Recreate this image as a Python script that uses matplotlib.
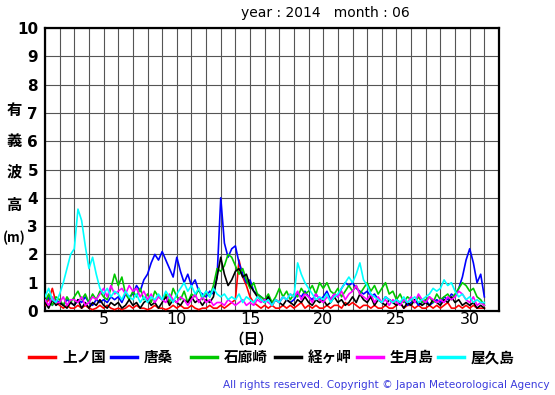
import numpy as np
import matplotlib
matplotlib.use("Agg")
import matplotlib.pyplot as plt

plt.rcParams['font.family'] = ['Noto Sans CJK JP', 'DejaVu Sans']

title_text = "year : 2014   month : 06"
names = ["上ノ国", "唐桑", "石廊崎", "経ヶ岬", "生月島", "屋久島"]
colors = ["#ff0000", "#0000ff", "#00c800", "#000000", "#ff00ff", "#00ffff"]
ylabel_chars = ["有", "義", "波", "高", "(m)"]
xtick_vals = [5, 10, 15, 20, 25, 30]
ytick_vals = list(range(0, 11))
samples_per_day = 4

kaminokuni = [.2,.4,.8,.3, .2,.1,.2,.1, .1,.2,.1,.2, .1,.05,.1,.2, .1,.2,.1,.05,
              .1,.05,.1,.2, .1,.2,.1,.1, .05,.1,.2,.1, .1,.05,.1,.2, .1,.2,.1,.1,
              .2,.1,.05,.1, .1,.2,.1,.1, .2,.1,.2,.3, .4,1.8,1.2,.9, .5,.3,.2,.1,
              .2,.1,.2,.1, .1,.2,.1,.2, .1,.2,.3,.1, .2,.1,.2,.1, .1,.2,.1,.2,
              .2,.1,.3,.2, .3,.2,.1,.2, .2,.1,.2,.1, .1,.2,.1,.1, .2,.3,.1,.2,
              .2,.1,.2,.1, .1,.2,.1,.2, .1,.2,.3,.1, .1,.2,.1,.2, .1,.2,.1,.1, .1]
karakuwa = [.3,.5,.2,.4, .3,.2,.4,.3, .2,.4,.3,.5, .3,.2,.4,.3, .4,.3,.5,.4,
            .5,.3,.6,.5, .6,.9,.7,1.1, 1.3,1.7,2.0,1.8, 2.1,1.8,1.5,1.2, 1.9,1.4,1.0,1.3,
            .9,1.1,.7,.6, .5,.7,.6,1.2, 4.0,2.4,1.9,2.2, 2.3,1.7,1.3,1.0, 1.1,.7,.6,.5,
            .4,.5,.3,.4, .3,.5,.4,.3, .4,.6,.5,.7, .5,.4,.6,.4, .5,.7,.4,.6,
            .5,.8,1.0,.9, 1.0,.8,.7,.6, .7,.5,.6,.4, .3,.5,.4,.3, .4,.3,.4,.2,
            .3,.4,.2,.3, .4,.2,.3,.4, .3,.5,.4,.6, .5,.8,1.2,1.8, 2.2,1.7,1.0,1.3, .5]
irozaki = [.3,.6,.2,.5, .4,.2,.5,.3, .5,.7,.4,.6, .3,.6,.4,.7, .5,.4,.8,1.3,
           .9,1.2,.6,.4, .7,.5,.8,.4, .6,.3,.7,.5, .4,.6,.3,.8, .5,.4,.7,.3,
           .6,.5,.8,.4, .7,.5,.9,1.5, 1.4,1.6,2.0,1.9, 1.6,1.3,1.5,1.1, .8,1.0,.6,.5,
           .4,.6,.3,.5, .8,.5,.7,.4, .6,.5,.8,.6, .7,.9,.6,1.0, .8,1.0,.7,.6,
           .8,.5,.7,.9, .7,.9,.6,.8, 1.0,.7,.9,.6, .8,1.0,.6,.7, .4,.6,.3,.5,
           .4,.3,.5,.3, .4,.5,.3,.6, .4,.5,.6,.4, .6,.8,1.0,.9, .7,.8,.5,.4, .2]
kyogamisaki = [.3,.1,.4,.2, .3,.2,.1,.3, .2,.4,.1,.3, .1,.3,.2,.4, .2,.1,.3,.2,
               .3,.1,.2,.4, .2,.3,.1,.3, .4,.2,.3,.1, .3,.5,.2,.4, .3,.2,.4,.3,
               .5,.3,.4,.2, .4,.3,.5,1.2, 1.9,1.3,.9,1.1, 1.4,1.5,1.2,1.3, .9,.7,.5,.4,
               .3,.5,.2,.4, .3,.2,.4,.3, .2,.4,.3,.5, .3,.2,.4,.3, .4,.2,.3,.5,
               .3,.4,.2,.3, .5,.3,.6,.4, .3,.5,.2,.4, .3,.2,.4,.3, .2,.3,.1,.3,
               .2,.4,.3,.2, .3,.2,.4,.3, .2,.4,.3,.5, .3,.4,.2,.3, .2,.3,.1,.2, .1]
ikitsukishima = [.4,.2,.5,.3, .3,.5,.2,.4, .4,.3,.5,.2, .3,.5,.4,.6, .8,.5,.9,.6,
                 .7,.8,.6,.9, .7,.8,.5,.7, .4,.6,.3,.5, .4,.3,.6,.4, .3,.5,.4,.2,
                 .4,.6,.3,.5, .3,.4,.2,.3, .3,.2,.4,.3, .2,.3,.4,.2, .3,.2,.4,.3,
                 .4,.3,.2,.4, .3,.5,.4,.6, .5,.7,.4,.6, .5,.3,.6,.4, .3,.5,.4,.6,
                 .5,.7,.4,.6, .7,.9,.6,.5, .4,.6,.3,.5, .3,.4,.2,.4, .3,.2,.4,.3,
                 .5,.3,.6,.4, .3,.5,.4,.3, .4,.3,.5,.4, .5,.7,.6,.4, .3,.5,.2,.3, .2]
yakushima = [.5,.8,.4,.3, .6,1.0,1.5,2.0, 2.2,3.6,3.2,2.3, 1.5,1.9,1.3,.8, .6,.8,.5,.7,
             .6,.4,.7,.5, .4,.6,.3,.5, .3,.5,.4,.6, .4,.7,.5,.3, .6,.8,1.0,.7,
             .9,.6,.8,.5, .7,.5,.8,.6, .5,.6,.4,.5, .4,.6,.3,.5, .4,.3,.5,.4,
             .3,.4,.2,.4, .3,.5,.4,.6, .5,1.7,1.3,1.0, .8,.6,.4,.5, .4,.6,.3,.5,
             .6,.8,1.0,1.2, 1.0,1.3,1.7,1.1, .9,.6,.5,.4, .3,.5,.4,.3, .4,.3,.5,.3,
             .4,.5,.3,.4, .5,.6,.8,.7, .8,1.1,.9,1.0, .7,.5,.6,.4, .5,.3,.4,.3, .3]

series = [kaminokuni, karakuwa, irozaki, kyogamisaki, ikitsukishima, yakushima]

W, H = 555, 395
fig = plt.figure(figsize=(W / 100, H / 100), dpi=100)
ax = fig.add_axes([45 / W, (H - 311) / H, 454 / W, 283 / H])

for vals, c in zip(series, colors):
    v = np.array(vals, dtype=float)
    x = 1 + np.arange(len(v)) / samples_per_day
    ax.plot(x, v, color=c, lw=1.2, zorder=3)

ax.set_xlim(1, 32)
ax.set_ylim(0, 10)
ax.set_xticks(np.arange(1, 33), minor=True)
ax.set_xticks(xtick_vals)
ax.set_yticks(ytick_vals)
ax.grid(True, which='both', axis='x', color='#555555', lw=0.8)
ax.grid(True, which='major', axis='y', color='#555555', lw=0.8)
ax.tick_params(which='both', length=0)
ax.tick_params(axis='x', labelsize=11.5, pad=1)
ax.tick_params(axis='y', labelsize=11, pad=5)
for lbl in ax.get_yticklabels():
    lbl.set_fontweight('bold')
    lbl.set_family('DejaVu Sans')
for lbl in ax.get_xticklabels():
    lbl.set_family('DejaVu Sans')
for s in ax.spines.values():
    s.set_linewidth(1.6)
    s.set_color('black')

fig.text(325 / W, 1 - 13 / H, title_text, ha='center', va='center', fontsize=10,
         family='DejaVu Sans')

ys = [110, 141, 171, 205, 238]
for ch, yy in zip(ylabel_chars, ys):
    fs = 9.5 if ch.startswith("(") else 11
    fig.text(14 / W, 1 - yy / H, ch, ha='center', va='center', fontsize=fs,
             fontweight='bold')

fig.text(251 / W, 1 - 339 / H, "（日）", ha='center', va='center', fontsize=10.5,
         fontweight='bold')

line_x = [29, 111, 191, 275, 357, 438]
for lx, nm, c in zip(line_x, names, colors):
    fig.add_artist(plt.Line2D([lx / W, (lx + 26) / W], [1 - 357 / H, 1 - 357 / H],
                              color=c, lw=2.5))
    fig.text((lx + 33) / W, 1 - 357 / H, nm, ha='left', va='center', fontsize=10.5,
             fontweight='bold')

fig.text(550 / W, 1 - 385 / H,
         "All rights reserved. Copyright © Japan Meteorological Agency",
         ha='right', va='center', fontsize=7.6, color='#3b3bdd', family='DejaVu Sans')

fig.savefig("out.png", dpi=100)
